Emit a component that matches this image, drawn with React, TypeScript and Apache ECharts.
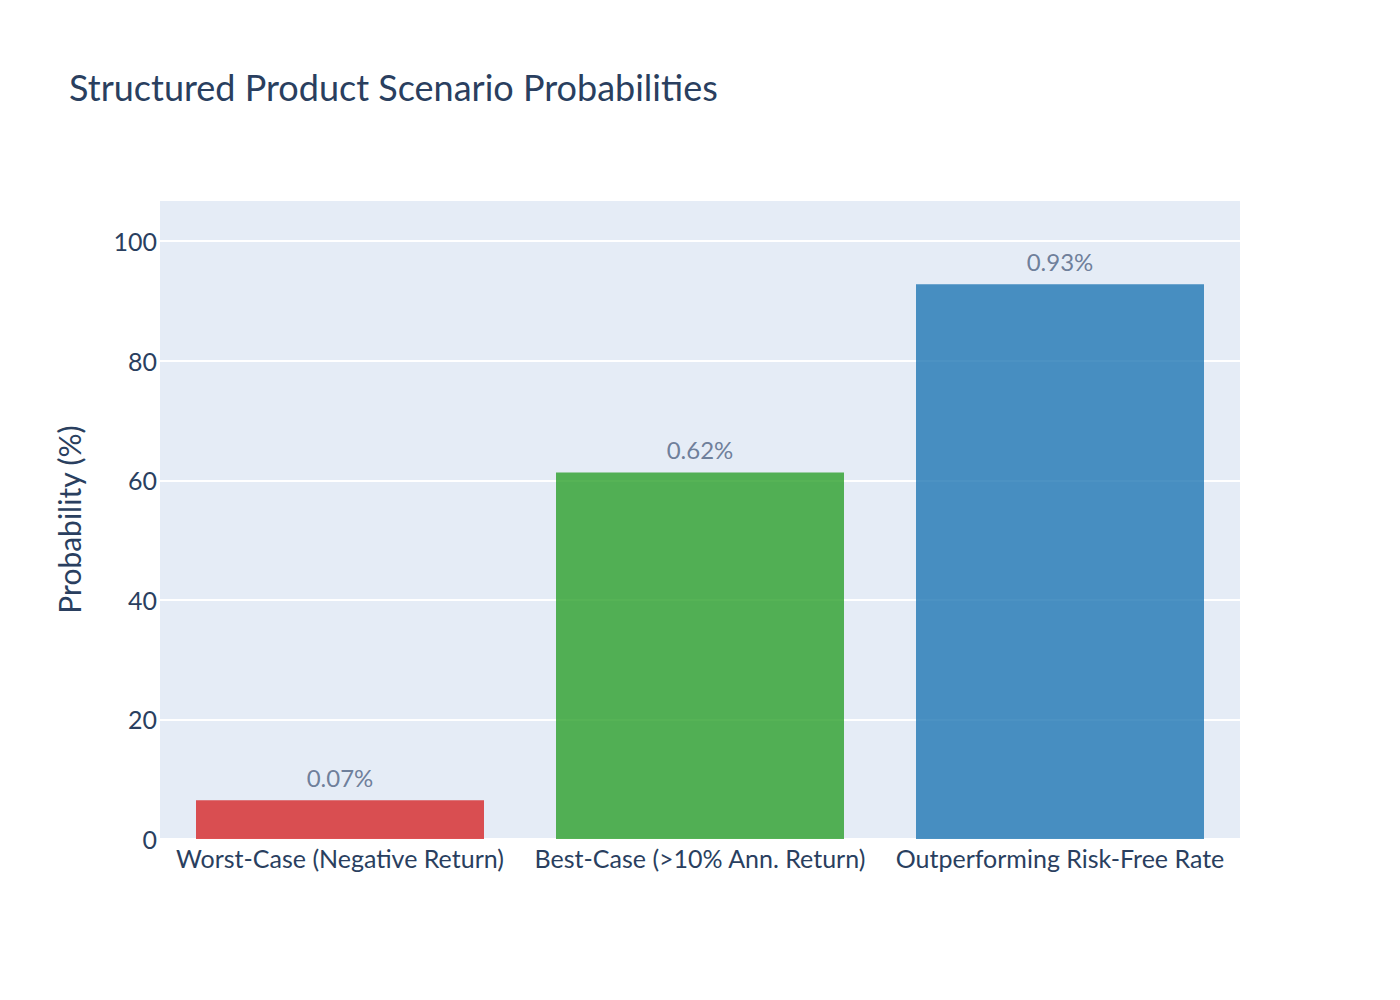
import React, { useEffect, useRef } from "react";
import * as echarts from "echarts";

const categories = [
  "Worst-Case (Negative Return)",
  "Best-Case (>10% Ann. Return)",
  "Outperforming Risk-Free Rate",
];
const probabilities = [6.5, 61.3, 92.8];
const barLabels = ["0.07%", "0.62%", "0.93%"];
const barColors = ["#d62728", "#2ca02c", "#1f77b4"];

const FONT = "Lato, 'Noto Sans', sans-serif";

const App: React.FC = () => {
  const chartRef = useRef<HTMLDivElement>(null);

  useEffect(() => {
    if (!chartRef.current) return;
    const chart = echarts.init(chartRef.current, undefined, { renderer: "svg" });

    const option = {
      animation: false,
      backgroundColor: "#ffffff",
      textStyle: { fontFamily: FONT },
      title: {
        text: "Structured Product Scenario Probabilities",
        left: 64,
        top: 64,
        textStyle: {
          fontFamily: FONT,
          fontSize: 36,
          fontWeight: "normal",
          color: "#2a3f5f",
        },
      },
      grid: {
        left: 160,
        right: 160,
        top: 200,
        bottom: 161,
        show: true,
        backgroundColor: "#E5ECF6",
        borderWidth: 0,
      },
      xAxis: {
        type: "category",
        data: categories,
        axisLine: { show: false },
        axisTick: { show: false },
        axisLabel: {
          fontFamily: FONT,
          fontSize: 25,
          color: "#2a3f5f",
          margin: 6,
          interval: 0,
        },
      },
      yAxis: {
        type: "value",
        min: 0,
        max: 106.9,
        interval: 20,
        name: "Probability (%)",
        nameLocation: "middle",
        nameGap: 76,
        nameTextStyle: { fontFamily: FONT, fontSize: 30, color: "#2a3f5f" },
        axisLine: { show: false },
        axisTick: { show: false },
        axisLabel: {
          fontFamily: FONT,
          fontSize: 25,
          color: "#2a3f5f",
          margin: 3,
          showMaxLabel: false,
        },
        splitLine: { lineStyle: { color: "#ffffff", width: 2 } },
      },
      series: [
        {
          type: "bar",
          data: probabilities.map((v, i) => ({
            value: v,
            itemStyle: {
              color: barColors[i],
              opacity: 0.8,
            },
          })),
          barCategoryGap: "20%",
          label: {
            show: true,
            position: "top",
            distance: 11,
            fontFamily: FONT,
            fontSize: 24,
            color: "#4f6282",
            formatter: (p: any) => barLabels[p.dataIndex],
          },
        },
      ],
    };

    chart.setOption(option);
    return () => {
      chart.dispose();
    };
  }, []);

  return <div ref={chartRef} style={{ width: 1400, height: 1000, margin: -8 }} />;
};

export default App;
